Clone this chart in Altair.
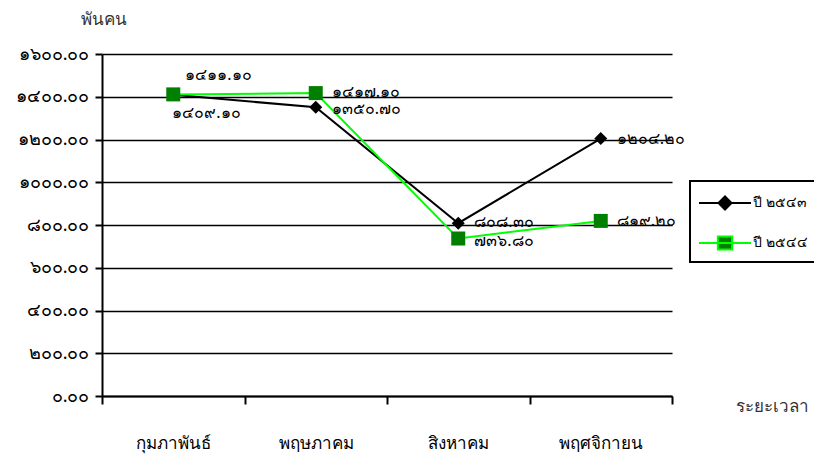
import altair as alt
import pandas as pd

months = ["กุมภาพันธ์", "พฤษภาคม", "สิงหาคม", "พฤศจิกายน"]
series_names = ["ปี ๒๕๔๓", "ปี ๒๕๔๔"]
values_2543 = [1409.10, 1350.70, 808.30, 1204.20]
values_2544 = [1411.10, 1417.10, 736.80, 819.20]
y_ticks = [0, 200, 400, 600, 800, 1000, 1200, 1400, 1600]

THAI = str.maketrans("0123456789", "๐๑๒๓๔๕๖๗๘๙")


def thai(v):
    return f"{v:.2f}".translate(THAI)


rows = []
for s, vals in zip(series_names, [values_2543, values_2544]):
    for m, v in zip(months, vals):
        rows.append({"month": m, "value": v, "series": s, "label": thai(v)})
df = pd.DataFrame(rows)

label_expr = " : ".join(
    [f"datum.value == {t} ? '{thai(t)}'" for t in y_ticks] + ["''"]
)

FONT = "Noto Sans"
xenc = alt.X(
    "month:N",
    sort=months,
    bandPosition=0.5,
    scale=alt.Scale(type="band", paddingInner=0, paddingOuter=0),
    axis=alt.Axis(
        title="ระยะเวลา",
        titleAngle=0,
        titleAlign="left",
        titleBaseline="middle",
        titleX=633,
        titleY=10,
        titleFontSize=17,
        titleFontWeight="normal",
        titleColor="#333333",
        titleFont=FONT,
        labelAngle=0,
        labelFontSize=17,
        labelFont=FONT,
        labelColor="black",
        labelPadding=31,
        tickBand="extent",
        tickSize=8,
        tickWidth=2,
        tickColor="black",
        domainColor="black",
        domainWidth=2,
        grid=False,
    ),
)
yenc = alt.Y(
    "value:Q",
    scale=alt.Scale(domain=[0, 1600], nice=False),
    axis=alt.Axis(
        values=y_ticks,
        labelExpr=label_expr,
        title="พันคน",
        titleAngle=0,
        titleAlign="left",
        titleBaseline="middle",
        titleX=-22,
        titleY=-35,
        titleFontSize=17,
        titleFontWeight="normal",
        titleColor="#333333",
        titleFont=FONT,
        labelFontSize=18,
        labelFontWeight="normal",
        labelFont=FONT,
        labelColor="black",
        labelPadding=6,
        tickSize=7,
        tickWidth=2,
        tickColor="black",
        domainColor="black",
        domainWidth=2,
        grid=True,
        gridColor="black",
        gridWidth=1.5,
    ),
)

base = alt.Chart(df).encode(x=xenc, y=yenc)
s1 = alt.datum.series == series_names[0]
s2 = alt.datum.series == series_names[1]
feb = alt.datum.month == months[0]
upper = (alt.datum.month == months[1]) & s2 | (alt.datum.month == months[2]) & s1
lower = (alt.datum.month == months[1]) & s1 | (alt.datum.month == months[2]) & s2
nov = alt.datum.month == months[3]

line1 = base.transform_filter(s1).mark_line(color="black", strokeWidth=2)
line2 = base.transform_filter(s2).mark_line(color="#00FF00", strokeWidth=2)
pts1 = base.transform_filter(s1).mark_point(
    shape="diamond", filled=True, color="black", size=169, opacity=1
)
pts2 = base.transform_filter(s2).mark_point(
    shape="square", filled=True, color="#007F00", size=196, opacity=1
)

txt_style = dict(fontSize=16, font=FONT, color="black", baseline="middle", align="left")
txt_nov = base.transform_filter(nov).mark_text(dx=16, **txt_style).encode(text="label:N")
txt_up = base.transform_filter(upper).mark_text(dx=16, dy=-1, **txt_style).encode(text="label:N")
txt_low = base.transform_filter(lower).mark_text(dx=16, dy=2, **txt_style).encode(text="label:N")
txt_feb1 = (
    base.transform_filter(feb & s1)
    .mark_text(dx=-1, dy=18, **txt_style)
    .encode(text="label:N")
)
txt_feb2 = (
    base.transform_filter(feb & s2)
    .mark_text(dx=12, dy=-19, **txt_style)
    .encode(text="label:N")
)

p1 = "M-1,0L3,0M0.5,0L1,-0.5L1.5,0L1,0.5Z"
p2 = "M-1,0L3,0M0.45,-0.5L1.55,-0.5L1.55,0.5L0.45,0.5Z"
leg = alt.Legend(
    title=None,
    orient="none",
    legendX=588,
    legendY=127,
    strokeColor="black",
    padding=8,
    rowPadding=15,
    labelOffset=27,
    labelFontSize=14,
    labelFont=FONT,
    labelColor="black",
    symbolOpacity=1,
    symbolStrokeWidth=2,
    symbolSize=676,
)
legend_layer = (
    alt.Chart(df)
    .mark_point(opacity=0, filled=True)
    .encode(
        x=xenc,
        y=yenc,
        shape=alt.Shape(
            "series:N",
            scale=alt.Scale(domain=series_names, range=[p1, p2]),
            legend=leg,
        ),
        fill=alt.Fill(
            "series:N",
            scale=alt.Scale(domain=series_names, range=["black", "#007F00"]),
            legend=leg,
        ),
        stroke=alt.Stroke(
            "series:N",
            scale=alt.Scale(domain=series_names, range=["black", "#00FF00"]),
            legend=leg,
        ),
        size=alt.value(676),
    )
)

chart = (
    alt.layer(
        legend_layer, line1, line2, pts1, pts2, txt_nov, txt_up, txt_low, txt_feb1, txt_feb2
    )
    .properties(
        width=570,
        height=342,
        autosize=alt.AutoSizeParams(type="none"),
        padding={"left": 94, "top": 46, "right": 142, "bottom": 62},
        background="white",
    )
    .configure_view(stroke=None)
    .configure_legend(strokeWidth=2)
)

chart.save("out.html", embed_options={"renderer": "svg", "actions": False})
